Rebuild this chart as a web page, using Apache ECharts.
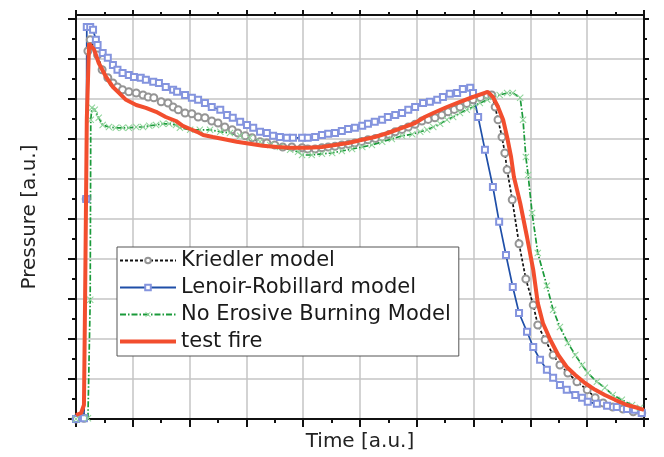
<!DOCTYPE html>
<html>
<head>
<meta charset="utf-8">
<script src="https://cdn.jsdelivr.net/npm/echarts@6/dist/echarts.min.js"></script>
<style>html,body{margin:0;padding:0;background:#fff}#c{width:664px;height:457px}</style>
</head>
<body>
<div id="c"></div>
<script>
var seriesNames = ['Kriedler model', 'Lenoir-Robillard model', 'No Erosive Burning Model', 'test fire'];

var kriedlerX = [0,0.14,0.18,0.21,0.25,0.38,0.46,0.56,0.65,0.73,0.82,0.93,1.06,1.18,1.27,1.37,1.50,1.62,1.71,1.80,1.92,2.04,2.15,2.27,2.39,2.50,2.62,2.75,2.85,2.98,3.10,3.24,3.36,3.50,3.64,3.80,3.98,4.08,4.21,4.33,4.44,4.56,4.68,4.80,4.91,5.03,5.14,5.27,5.39,5.51,5.62,5.74,5.85,5.97,6.09,6.20,6.32,6.44,6.55,6.66,6.76,6.88,6.99,7.12,7.24,7.32,7.38,7.43,7.50,7.55,7.59,7.68,7.80,7.92,8.05,8.13,8.26,8.40,8.52,8.66,8.82,9.00,9.14,9.28,9.45,9.63,9.81,9.96];
var kriedlerY = [0,0.02,5.5,9.2,9.48,9.1,8.73,8.53,8.40,8.30,8.23,8.18,8.15,8.10,8.05,8.03,7.93,7.90,7.80,7.73,7.65,7.63,7.55,7.53,7.45,7.40,7.30,7.23,7.15,7.08,7.03,6.93,6.90,6.85,6.80,6.80,6.78,6.75,6.75,6.78,6.80,6.82,6.85,6.87,6.90,6.94,6.98,7.01,7.05,7.11,7.18,7.24,7.30,7.37,7.45,7.49,7.53,7.60,7.68,7.74,7.80,7.89,7.98,8.04,8.10,8.10,7.80,7.48,7.05,6.65,6.23,5.48,4.38,3.50,2.85,2.35,1.98,1.60,1.35,1.15,0.93,0.73,0.53,0.40,0.30,0.25,0.18,0.15];

var lenoirX = [0,0.14,0.18,0.19,0.25,0.30,0.35,0.38,0.47,0.56,0.65,0.73,0.82,0.93,1.02,1.14,1.23,1.36,1.46,1.58,1.71,1.78,1.92,2.04,2.15,2.27,2.39,2.54,2.66,2.76,2.89,3.01,3.12,3.24,3.36,3.47,3.59,3.71,3.82,3.98,4.08,4.21,4.33,4.44,4.56,4.68,4.79,4.91,5.04,5.14,5.26,5.39,5.49,5.62,5.74,5.85,5.97,6.11,6.23,6.36,6.46,6.58,6.71,6.81,6.94,6.99,7.08,7.20,7.34,7.45,7.57,7.69,7.80,7.94,8.05,8.17,8.29,8.40,8.52,8.64,8.79,8.91,9.01,9.17,9.35,9.52,9.70,9.84,9.96];
var lenoirY = [0,0.02,5.5,9.8,9.8,9.73,9.48,9.35,9.15,9.03,8.85,8.73,8.65,8.60,8.55,8.53,8.48,8.43,8.40,8.30,8.23,8.18,8.10,8.03,7.98,7.90,7.80,7.73,7.60,7.53,7.43,7.35,7.28,7.18,7.15,7.08,7.05,7.03,7.03,7.03,7.03,7.05,7.10,7.13,7.15,7.20,7.25,7.28,7.33,7.38,7.43,7.48,7.55,7.60,7.65,7.73,7.80,7.90,7.93,7.98,8.05,8.13,8.15,8.25,8.28,8.15,7.55,6.73,5.80,4.93,4.10,3.30,2.65,2.18,1.80,1.48,1.23,1.03,0.85,0.73,0.60,0.53,0.43,0.38,0.33,0.30,0.25,0.23,0.15];

var noErosiveX = [0,0.21,0.25,0.26,0.28,0.33,0.40,0.47,0.58,0.70,0.82,0.93,1.06,1.18,1.29,1.41,1.53,1.64,1.76,1.83,2.01,2.18,2.36,2.54,2.71,2.89,3.06,3.24,3.42,3.59,3.77,3.91,3.98,4.15,4.33,4.51,4.68,4.86,5.04,5.21,5.39,5.56,5.74,5.92,6.06,6.18,6.29,6.41,6.53,6.64,6.76,6.88,6.99,7.11,7.24,7.34,7.46,7.59,7.69,7.82,7.87,7.92,7.96,8.03,8.13,8.29,8.40,8.52,8.66,8.79,8.91,9.01,9.17,9.31,9.45,9.61,9.79,9.93];
var noErosiveY = [0,0.02,2.98,7.48,7.78,7.73,7.53,7.35,7.30,7.28,7.28,7.28,7.30,7.30,7.33,7.35,7.38,7.38,7.35,7.28,7.23,7.23,7.23,7.18,7.15,7.08,7.03,6.93,6.85,6.80,6.73,6.68,6.60,6.60,6.63,6.65,6.70,6.75,6.80,6.85,6.93,7.00,7.08,7.12,7.18,7.23,7.30,7.38,7.48,7.55,7.65,7.73,7.80,7.90,7.98,8.05,8.10,8.15,8.15,8.03,7.48,6.55,6.10,5.15,4.15,3.33,2.73,2.30,1.90,1.60,1.35,1.15,0.93,0.78,0.60,0.48,0.35,0.28];

var testFireX = [0,0.09,0.14,0.16,0.19,0.23,0.32,0.40,0.53,0.65,0.76,0.88,1.06,1.23,1.41,1.58,1.76,1.88,2.01,2.13,2.24,2.41,2.59,2.83,3.06,3.29,3.54,3.77,4.08,4.33,4.56,4.79,5.04,5.26,5.49,5.74,5.97,6.14,6.29,6.53,6.76,6.99,7.25,7.34,7.43,7.52,7.59,7.66,7.71,7.82,7.94,8.05,8.13,8.22,8.35,8.49,8.64,8.79,8.96,9.14,9.31,9.49,9.70,9.88,10];
var testFireY = [0.10,0.15,0.35,2.98,7.48,9.39,9.23,8.90,8.55,8.30,8.15,7.98,7.85,7.78,7.68,7.55,7.45,7.33,7.25,7.18,7.10,7.05,7.00,6.93,6.88,6.83,6.80,6.78,6.78,6.80,6.85,6.90,6.98,7.05,7.15,7.28,7.40,7.55,7.65,7.80,7.93,8.05,8.18,8.05,7.80,7.48,7.05,6.55,6.05,5.40,4.55,3.73,2.90,2.40,1.98,1.60,1.30,1.10,0.90,0.73,0.60,0.48,0.35,0.28,0.23];

var yMajorTicks = [0,1,2,3,4,5,6,7,8,9,10];
var yMinorTicks = [0.5,1.5,2.5,3.5,4.5,5.5,6.5,7.5,8.5,9.5];

var xName = 'Time [a.u.]';
var yName = 'Pressure [a.u.]';

function zip(xs, ys) { return xs.map(function (x, i) { return [x, ys[i]]; }); }

var FONT = 'DejaVu Sans';
var AX = '#111';
var crossPath = 'path://M0,1L1,0L5,4L9,0L10,1L6,5L10,9L9,10L5,6L1,10L0,9L4,5Z';

function axisCommon(pos, main) {
  return {
    type: 'value', min: 0, interval: 1, position: pos,
    axisLine: { show: true, onZero: false, lineStyle: { color: AX, width: 2 } },
    axisTick: { show: true, length: main ? 8 : 5, lineStyle: { color: AX, width: 2 } },
    minorTick: { show: true, splitNumber: 2, length: main ? 4 : 3, lineStyle: { color: AX, width: 2 } },
    axisLabel: { show: false },
    splitLine: { show: main, lineStyle: { color: '#c4c4c4', width: 1.5 } },
    minorSplitLine: { show: false }
  };
}

var xb = axisCommon('bottom', true); xb.max = 10;
xb.name = xName; xb.nameLocation = 'middle'; xb.nameGap = 13;
xb.nameTextStyle = { fontFamily: FONT, fontSize: 20, color: '#222' };
var xt = axisCommon('top', false); xt.max = 10;

var yl = axisCommon('left', true); yl.max = 10.1;
yl.name = yName; yl.nameLocation = 'middle'; yl.nameGap = 36;
yl.nameTextStyle = { fontFamily: FONT, fontSize: 20, color: '#222' };
yl.axisTick.customValues = yMajorTicks;
yl.minorTick = { show: false };
var ylMinor = axisCommon('left', false); ylMinor.max = 10.1;
ylMinor.axisLine = { show: false, onZero: false };
ylMinor.axisTick = { show: true, length: 4, customValues: yMinorTicks, lineStyle: { color: AX, width: 2 } };
ylMinor.minorTick = { show: false };
var yr = axisCommon('right', false); yr.max = 10.1;
yr.axisTick.customValues = yMajorTicks;
yr.minorTick = { show: false };
var yrMinor = axisCommon('right', false); yrMinor.max = 10.1;
yrMinor.axisLine = { show: false, onZero: false };
yrMinor.axisTick = { show: true, length: 3, customValues: yMinorTicks, lineStyle: { color: AX, width: 2 } };
yrMinor.minorTick = { show: false };

var chart = echarts.init(document.getElementById('c'), null, { renderer: 'canvas' });
chart.setOption({
  animation: false,
  backgroundColor: '#fff',
  grid: { left: 76, right: 20, top: 15, bottom: 38, containLabel: false },
  xAxis: [xb, xt],
  yAxis: [yl, yr, ylMinor, yrMinor],
  legend: {
    data: [
      { name: seriesNames[0] },
      { name: seriesNames[1] },
      { name: seriesNames[2] },
      { name: seriesNames[3], icon: 'path://M0,0L16,0L16,1.1L0,1.1Z' }
    ],
    orient: 'vertical', left: 117, top: 247,
    padding: [3, 8, 4, 2], itemGap: 6, itemWidth: 56, itemHeight: 7,
    backgroundColor: '#fff', borderColor: '#555', borderWidth: 1, borderRadius: 0,
    selectedMode: false,
    textStyle: { fontFamily: FONT, fontSize: 21, color: '#1a1a1a', lineHeight: 20 }
  },
  series: [
    {
      name: seriesNames[0], type: 'line', data: zip(kriedlerX, kriedlerY),
      xAxisIndex: 0, yAxisIndex: 0,
      symbol: 'emptyCircle', symbolSize: 7,
      itemStyle: { color: '#959595', borderWidth: 1.2 },
      lineStyle: { color: '#111', width: 1.7, type: [3, 2] },
      z: 2
    },
    {
      name: seriesNames[1], type: 'line', data: zip(lenoirX, lenoirY),
      xAxisIndex: 0, yAxisIndex: 0,
      symbol: 'emptyRect', symbolSize: 6,
      itemStyle: { color: '#8494de', borderWidth: 1.2 },
      lineStyle: { color: '#1f4fa8', width: 1.7 },
      z: 2
    },
    {
      name: seriesNames[2], type: 'line', data: zip(noErosiveX, noErosiveY),
      xAxisIndex: 0, yAxisIndex: 0,
      symbol: crossPath, symbolSize: 7,
      itemStyle: { color: '#8fd49a' },
      lineStyle: { color: '#1a9a3a', width: 1.7, type: [6, 2, 1.5, 2] },
      z: 2
    },
    {
      name: seriesNames[3], type: 'line', data: zip(testFireX, testFireY),
      xAxisIndex: 0, yAxisIndex: 0,
      symbol: 'none', showSymbol: false,
      lineStyle: { color: '#f24e2e', width: 4 },
      itemStyle: { color: '#f24e2e' },
      z: 4
    }
  ]
});
</script>
</body>
</html>
